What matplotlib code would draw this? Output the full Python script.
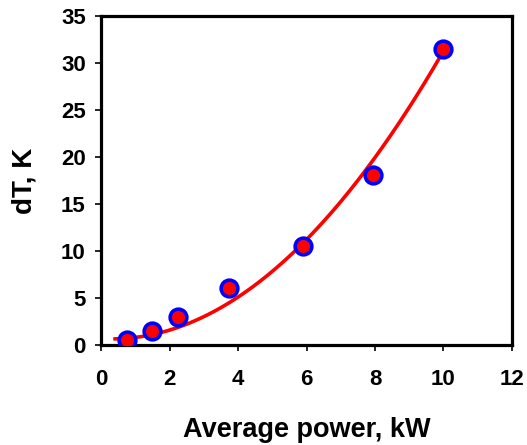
import numpy as np
import matplotlib
matplotlib.use("Agg")
import matplotlib.pyplot as plt

# datos
power_kw = [0.75, 1.5, 2.25, 3.75, 5.9, 7.95, 10.0]
dT_K = [0.5, 1.5, 3.0, 6.1, 10.5, 18.1, 31.5]

# linea de tendencia (polinomio grado 2, coeficientes estimados del grafico)
trend_coef = [0.326, -0.2, 0.68]
trend_range = [0.41, 10.0]

plt.rcParams['font.family'] = ['Liberation Sans', 'DejaVu Sans']
plt.rcParams['font.weight'] = 'bold'

fig = plt.figure(figsize=(5.27, 4.45), dpi=100)
ax = fig.add_axes([0.1917, 0.2247, 0.7798, 0.7393])

xs = np.linspace(trend_range[0], trend_range[1], 200)
ax.plot(xs, np.polyval(trend_coef, xs), color='#ff0000', linewidth=2.6, zorder=2)

ax.plot(power_kw, dT_K, linestyle='none', marker='o', markersize=12,
        markerfacecolor='#ff0000', markeredgecolor='#0000ff',
        markeredgewidth=2.6, zorder=3)

ax.set_xlim(0, 12)
ax.set_ylim(0, 35)
ax.set_xticks(range(0, 13, 2))
ax.set_yticks(range(0, 36, 5))

for sp in ax.spines.values():
    sp.set_linewidth(2.3)
    sp.set_color('black')

ax.tick_params(axis='both', direction='out', length=4, width=1.2,
               labelsize=16)
ax.tick_params(axis='x', pad=13)
ax.tick_params(axis='y', pad=7)
for lab in ax.get_xticklabels() + ax.get_yticklabels():
    lab.set_fontweight('bold')

ax.set_xlabel('Average power, kW', fontsize=19.5, fontweight='bold', labelpad=20)
ax.set_ylabel('dT, K', fontsize=20, fontweight='bold', labelpad=17)

fig.savefig('out.png', dpi=100)
